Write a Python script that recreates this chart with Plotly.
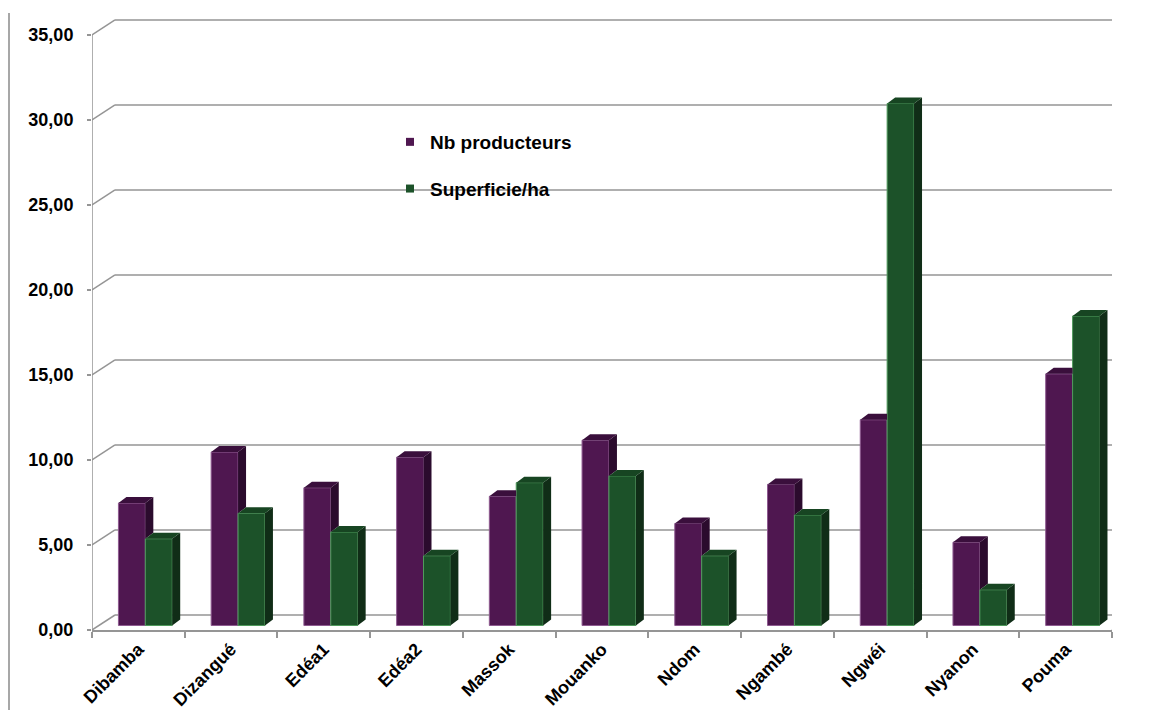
import plotly.graph_objects as go

# Localités et valeurs
localites = ["Dibamba", "Dizangué", "Edéa1", "Edéa2", "Massok", "Mouanko",
             "Ndom", "Ngambé", "Ngwéi", "Nyanon", "Pouma"]
nb_producteurs = [7.2, 10.2, 8.1, 9.9, 7.6, 10.9, 6.0, 8.3, 12.1, 4.9, 14.8]
superficie_ha = [5.1, 6.6, 5.5, 4.1, 8.4, 8.8, 4.1, 6.5, 30.7, 2.1, 18.2]
y_ticks = [0, 5, 10, 15, 20, 25, 30, 35]

# Couleurs (face avant, côté, dessus, contour)
PURPLE = ("#4f1750", "#2b0b2d", "#3a0f3c", "#8e5a90")
GREEN = ("#1c5229", "#102d17", "#174522", "#4f9a5c")
GRID = "#959595"

# Géométrie pseudo-3D (unités des axes)
W, H = 1168, 710
ML, MR, MT, MB = 92, 56, 6, 80
Y_TOP = 36.7
px_x = (W - ML - MR) / 11.0
px_y = (H - MT - MB) / Y_TOP
WALL_DX, WALL_DY = 23 / px_x, 15 / px_y     # profondeur du fond
BAR_DX, BAR_DY = 8 / px_x, 6 / px_y        # profondeur des barres
BASE = 4.5 / px_y                          # décalage du pied des barres
BW = 0.29
OFF_P, OFF_G = -0.215, 0.075

xs = list(range(len(localites)))
fig = go.Figure()

# Faces avant
for vals, off, col, name in [(nb_producteurs, OFF_P, PURPLE, "Nb producteurs"),
                             (superficie_ha, OFF_G, GREEN, "Superficie/ha")]:
    fig.add_trace(go.Bar(x=xs, y=vals, base=BASE, width=BW, offset=off,
                         marker=dict(color=col[0], line=dict(color=col[3], width=1)),
                         name=name, showlegend=False))


def poly_trace(polys, color):
    xx, yy = [], []
    for p in polys:
        for (a, b) in p:
            xx.append(a)
            yy.append(b)
        xx.append(p[0][0])
        yy.append(p[0][1])
        xx.append(None)
        yy.append(None)
    return go.Scatter(x=xx, y=yy, mode="lines", fill="toself", fillcolor=color,
                      line=dict(width=0, color=color), hoverinfo="skip",
                      showlegend=False)


# Faces latérales et supérieures
p_side, p_top, g_side, g_top = [], [], [], []
for c, p, g in zip(xs, nb_producteurs, superficie_ha):
    pl, pr = c + OFF_P, c + OFF_P + BW
    gl, gr = c + OFF_G, c + OFF_G + BW
    pt, gt = BASE + p, BASE + g
    if pt > gt:
        p_side.append([(pr, gt), (pr + BAR_DX, gt + BAR_DY),
                       (pr + BAR_DX, pt + BAR_DY), (pr, pt)])
        p_top.append([(pl, pt), (pr, pt), (pr + BAR_DX, pt + BAR_DY),
                      (pl + BAR_DX, pt + BAR_DY)])
    else:
        p_top.append([(pl, pt), (pr, pt), (pr, pt + BAR_DY),
                      (pl + BAR_DX, pt + BAR_DY)])
    g_side.append([(gr, BASE), (gr + BAR_DX, BASE + BAR_DY),
                   (gr + BAR_DX, gt + BAR_DY), (gr, gt)])
    g_top.append([(gl, gt), (gr, gt), (gr + BAR_DX, gt + BAR_DY),
                  (gl + BAR_DX, gt + BAR_DY)])

fig.add_trace(poly_trace(p_side, PURPLE[1]))
fig.add_trace(poly_trace(p_top, PURPLE[2]))
fig.add_trace(poly_trace(g_side, GREEN[1]))
fig.add_trace(poly_trace(g_top, GREEN[2]))

# Légende
for name, col, grp in [("Nb producteurs", PURPLE[0], "a"), ("Superficie/ha", GREEN[0], "b")]:
    fig.add_trace(go.Scatter(x=[None], y=[None], mode="markers", name=name,
                             legendgroup=grp,
                             marker=dict(symbol="square", size=8, color=col)))

# Murs et quadrillage
shapes = []
x0, x1 = -0.5, len(localites) - 0.5
for v in y_ticks:
    shapes.append(dict(type="line", xref="x", yref="y", x0=x0, y0=v,
                       x1=x0 + WALL_DX, y1=v + WALL_DY,
                       line=dict(color=GRID, width=1.5), layer="below"))
    shapes.append(dict(type="line", xref="x", yref="y", x0=x0 + WALL_DX, y0=v + WALL_DY,
                       x1=x1 + WALL_DX, y1=v + WALL_DY,
                       line=dict(color=GRID, width=1.5), layer="below"))
shapes.append(dict(type="line", xref="x", yref="y", x0=x1, y0=0,
                   x1=x1 + WALL_DX, y1=WALL_DY, line=dict(color=GRID, width=1.5),
                   layer="below"))
shapes.append(dict(type="line", xref="x", yref="y", x0=x0, y0=0, x1=x0, y1=max(y_ticks),
                   line=dict(color=GRID, width=1.5), layer="below"))
# Filet vertical en marge gauche
shapes.append(dict(type="line", xref="paper", yref="paper",
                   x0=(9 - ML) / (W - ML - MR), x1=(9 - ML) / (W - ML - MR),
                   y0=-MB / (H - MT - MB), y1=(H - MB - 13) / (H - MT - MB),
                   line=dict(color="#8a8a8a", width=1.5)))

FAMILY = "Liberation Sans, Arial, sans-serif"
font_y = dict(family=FAMILY, size=18, color="black", weight="bold")
font_x = dict(family=FAMILY, size=18, color="black", weight="bold")
font_leg = dict(family=FAMILY, size=19, color="black", weight="bold")

fig.update_layout(
    width=W, height=H, autosize=False,
    margin=dict(l=ML, r=MR, t=MT, b=MB, autoexpand=False),
    paper_bgcolor="white", plot_bgcolor="white",
    separators=", ",
    barmode="overlay",
    shapes=shapes,
    showlegend=True,
    legend=dict(x=(390 - ML) / (W - ML - MR), y=1 - (123 - MT) / (H - MT - MB),
                xanchor="left", yanchor="top", bgcolor="rgba(0,0,0,0)",
                font=font_leg, tracegroupgap=19),
    xaxis=dict(range=[x0, x1], tickmode="array", tickvals=xs, ticktext=localites,
               tickangle=-45, tickfont=font_x, ticks="", showgrid=False,
               zeroline=False, showline=True, linecolor=GRID, linewidth=1.5,
               ticklabelstandoff=0, automargin=False,
               minor=dict(tickmode="array",
                          tickvals=[i - 0.5 for i in range(len(localites) + 1)],
                          ticks="outside", ticklen=6, tickcolor=GRID, tickwidth=1.5,
                          showgrid=False),
               fixedrange=True),
    yaxis=dict(range=[0, Y_TOP], tickmode="array", tickvals=y_ticks,
               tickformat=".2f", tickfont=font_y, ticks="outside", ticklen=4,
               tickcolor=GRID, tickwidth=1.5, showgrid=False, zeroline=False,
               showline=False, ticklabelstandoff=10, automargin=False,
               fixedrange=True),
)

fig.write_html("out.html")
